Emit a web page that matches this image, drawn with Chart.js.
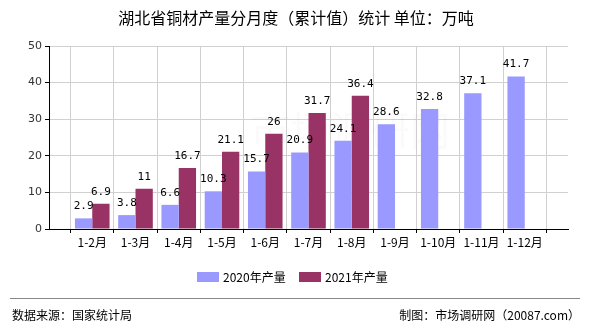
<!DOCTYPE html>
<html>
<head>
<meta charset="utf-8">
<script src="https://cdn.jsdelivr.net/npm/chart.js@4/dist/chart.umd.min.js"></script>
<style>
  html, body { margin: 0; padding: 0; background: #fff; }
  #wrap { width: 590px; height: 330px; position: relative; }
</style>
</head>
<body>
<div id="wrap"><canvas id="c" width="590" height="330"></canvas></div>
<script>
// Monthly cumulative copper output, Hubei province (10k tonnes)
const months = ['1-2月', '1-3月', '1-4月', '1-5月', '1-6月', '1-7月', '1-8月', '1-9月', '1-10月', '1-11月', '1-12月'];
const output2020 = [2.9, 3.8, 6.6, 10.3, 15.7, 20.9, 24.1, 28.6, 32.8, 37.1, 41.7];
const output2021 = [6.9, 11, 16.7, 21.1, 26, 31.7, 36.4, null, null, null, null];
const seriesNames = ['2020年产量', '2021年产量'];
const yTicks = [0, 10, 20, 30, 40, 50];

const titleText = '湖北省铜材产量分月度（累计值）统计 单位：万吨';
const sourceText = '数据来源：国家统计局';
const creditText = '制图：市场调研网（20087.com）';

const COLORS = ['#9999ff', '#993366'];
const CJK = '"Noto Sans CJK SC", "Noto Sans", sans-serif';

// empty slot at each end so the axis runs one step past the first and last month
const labels = [''].concat(months, ['']);
const pad = arr => [null].concat(arr, [null]);

const decorations = {
  id: 'decorations',
  afterDatasetsDraw(chart) {
    const ctx = chart.ctx;
    ctx.save();
    // value labels above bars
    ctx.font = '11px "DejaVu Sans Mono", monospace';
    ctx.fillStyle = '#000';
    ctx.textAlign = 'center';
    ctx.textBaseline = 'middle';
    chart.data.datasets.forEach((ds, di) => {
      const meta = chart.getDatasetMeta(di);
      meta.data.forEach((bar, i) => {
        const v = ds.data[i];
        if (v === null || v === undefined) return;
        ctx.fillText(String(v), bar.x, bar.y - 12);
      });
    });
    ctx.restore();
  },
  afterDraw(chart) {
    const ctx = chart.ctx;
    ctx.save();
    // title
    ctx.fillStyle = '#000';
    ctx.font = '16px ' + CJK;
    ctx.textAlign = 'center';
    ctx.textBaseline = 'middle';
    ctx.fillText(titleText, 296, 18);

    // legend
    ctx.font = '12px ' + CJK;
    ctx.textAlign = 'left';
    const items = [{x: 197, t: seriesNames[0], c: COLORS[0]}, {x: 299, t: seriesNames[1], c: COLORS[1]}];
    items.forEach(it => {
      ctx.fillStyle = it.c;
      ctx.fillRect(it.x, 272, 22, 10);
      ctx.fillStyle = '#000';
      ctx.fillText(it.t, it.x + 26, 277);
    });

    // footer rule and texts
    ctx.strokeStyle = '#888';
    ctx.lineWidth = 1;
    ctx.beginPath();
    ctx.moveTo(10, 298.5);
    ctx.lineTo(580, 298.5);
    ctx.stroke();
    ctx.fillStyle = '#000';
    ctx.font = '12px ' + CJK;
    ctx.textAlign = 'left';
    ctx.fillText(sourceText, 12, 315);
    ctx.textAlign = 'right';
    ctx.fillText(creditText, 580, 315);
    ctx.restore();
  },
  beforeDatasetsDraw(chart) {
    // faint site mark behind the bars
    const ctx = chart.ctx;
    ctx.save();
    ctx.fillStyle = 'rgba(0,0,0,0.018)';
    ctx.font = '40px ' + CJK;
    ctx.textAlign = 'center';
    ctx.textBaseline = 'middle';
    ctx.fillText('市场调研网', 350, 130);
    ctx.restore();
  }
};

new Chart(document.getElementById('c'), {
  type: 'bar',
  data: {
    labels: labels,
    datasets: [
      { label: seriesNames[0], data: pad(output2020), backgroundColor: COLORS[0] },
      { label: seriesNames[1], data: pad(output2021), backgroundColor: COLORS[1] }
    ]
  },
  options: {
    responsive: false,
    animation: false,
    devicePixelRatio: 1,
    categoryPercentage: 0.8,
    barPercentage: 1.0,
    layout: { padding: { left: 0, top: 46, right: 22, bottom: 81 } },
    plugins: {
      legend: { display: false },
      title: { display: false },
      tooltip: { enabled: false }
    },
    scales: {
      x: {
        type: 'category',
        offset: false,
        grid: { color: '#d0d0d0', tickColor: '#000', tickLength: 4, lineWidth: 1 },
        border: { display: true, color: '#000' },
        ticks: { color: '#000', font: { size: 12, family: CJK }, maxRotation: 0, autoSkip: false, padding: 2 },
        afterFit(s) { s.height = 20; }
      },
      y: {
        min: 0,
        max: 50,
        afterBuildTicks(s) { s.ticks = yTicks.map(v => ({ value: v })); },
        grid: { color: '#d0d0d0', tickColor: '#000', tickLength: 4 },
        border: { display: true, color: '#000' },
        ticks: { color: '#333', font: { size: 11, family: '"DejaVu Sans", sans-serif' }, padding: 3 },
        afterFit(s) { s.width = 49; }
      }
    }
  },
  plugins: [decorations]
});
</script>
</body>
</html>
